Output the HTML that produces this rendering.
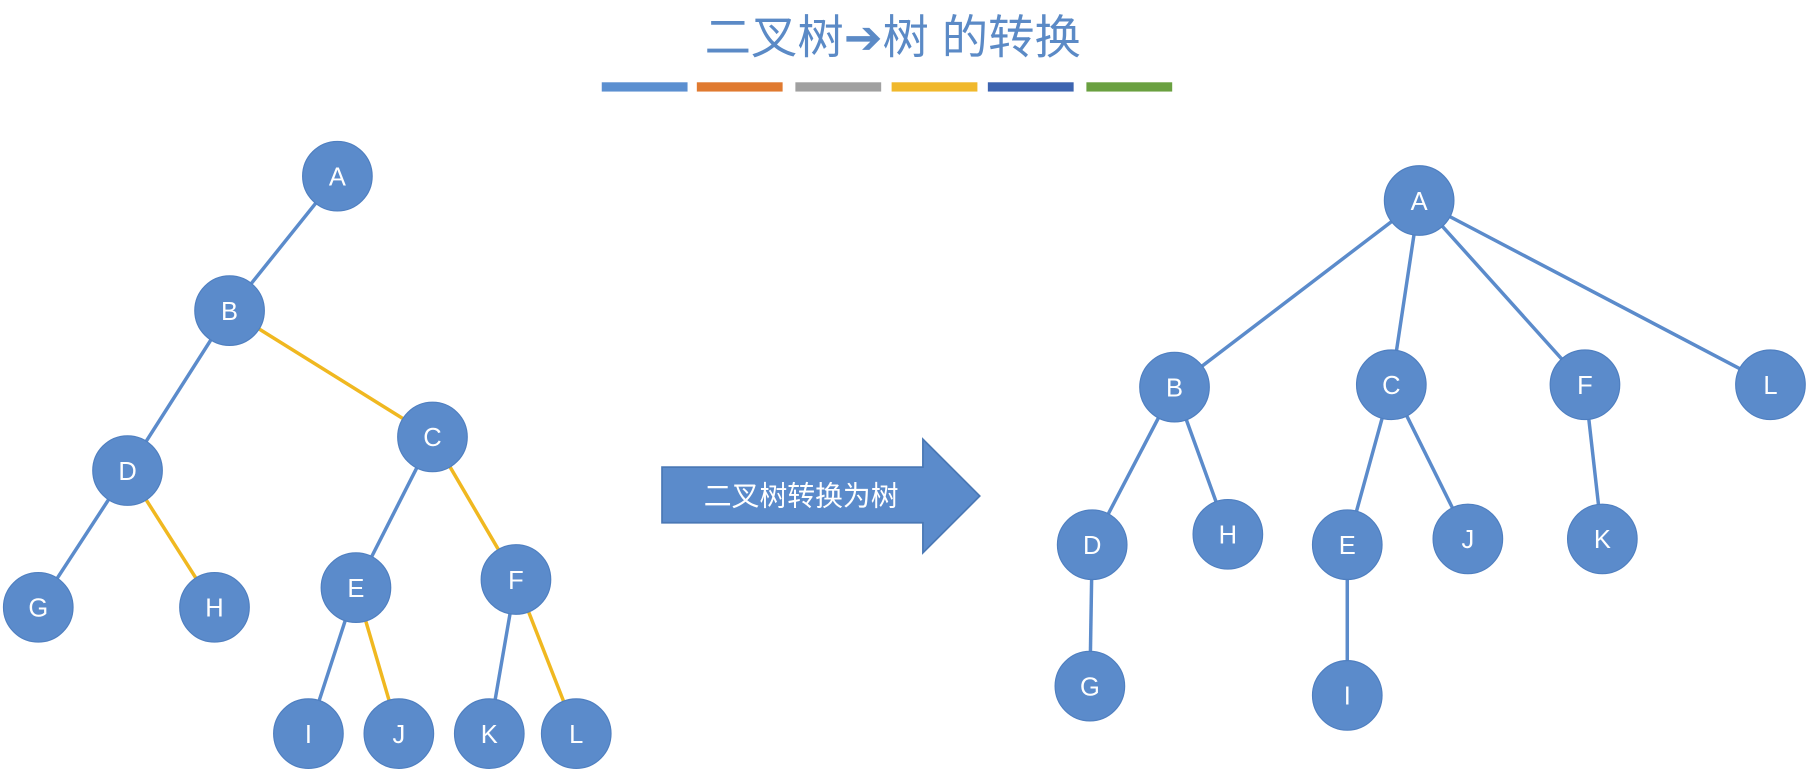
<!DOCTYPE html>
<html><head><meta charset="utf-8"><style>
html,body{margin:0;padding:0;background:#fff;}
svg{display:block;}
text{font-family:"Liberation Sans","Noto Sans CJK SC",sans-serif;}
</style></head><body>
<svg width="1818" height="780" viewBox="0 0 1568 673" preserveAspectRatio="none" xmlns="http://www.w3.org/2000/svg">
<text x="770" y="46" text-anchor="middle" font-size="40" fill="#5b8ac6">二叉树<tspan font-family="DejaVu Sans" font-weight="bold">➔</tspan>树 的转换</text>
<g>
<rect x="519" y="71" width="74" height="8" fill="#5b8fd0"/>
<rect x="601" y="71" width="74" height="8" fill="#e07a30"/>
<rect x="686" y="71" width="74" height="8" fill="#a0a0a0"/>
<rect x="769" y="71" width="74" height="8" fill="#f0b82c"/>
<rect x="852" y="71" width="74" height="8" fill="#3d64b0"/>
<rect x="937" y="71" width="74" height="8" fill="#6aa040"/>
</g>
<g stroke-width="3" fill="none">
<g stroke="#5b8bcb">
<line x1="291" y1="152" x2="198" y2="268"/>
<line x1="198" y1="268" x2="110" y2="406"/>
<line x1="110" y1="406" x2="33" y2="524"/>
<line x1="373" y1="377" x2="307" y2="507"/>
<line x1="307" y1="507" x2="266" y2="633"/>
<line x1="445" y1="500" x2="422" y2="633"/>
<line x1="1224" y1="173" x2="1013" y2="334"/>
<line x1="1224" y1="173" x2="1200" y2="332"/>
<line x1="1224" y1="173" x2="1367" y2="332"/>
<line x1="1224" y1="173" x2="1527" y2="332"/>
<line x1="1013" y1="334" x2="942" y2="470"/>
<line x1="1013" y1="334" x2="1059" y2="461"/>
<line x1="1200" y1="332" x2="1162" y2="470"/>
<line x1="1200" y1="332" x2="1266" y2="465"/>
<line x1="1367" y1="332" x2="1382" y2="465"/>
<line x1="942" y1="470" x2="940" y2="592"/>
<line x1="1162" y1="470" x2="1162" y2="600"/>
</g>
<g stroke="#f0b820">
<line x1="198" y1="268" x2="373" y2="377"/>
<line x1="110" y1="406" x2="185" y2="524"/>
<line x1="373" y1="377" x2="445" y2="500"/>
<line x1="307" y1="507" x2="344" y2="633"/>
<line x1="445" y1="500" x2="497" y2="633"/>
</g>
</g>
<g fill="#5b8bcb" stroke="#4f7fc0" stroke-width="1">
<circle cx="291" cy="152" r="30"/><circle cx="198" cy="268" r="30"/><circle cx="110" cy="406" r="30"/><circle cx="373" cy="377" r="30"/>
<circle cx="33" cy="524" r="30"/><circle cx="185" cy="524" r="30"/><circle cx="307" cy="507" r="30"/><circle cx="445" cy="500" r="30"/>
<circle cx="266" cy="633" r="30"/><circle cx="344" cy="633" r="30"/><circle cx="422" cy="633" r="30"/><circle cx="497" cy="633" r="30"/>
<circle cx="1224" cy="173" r="30"/><circle cx="1013" cy="334" r="30"/><circle cx="1200" cy="332" r="30"/><circle cx="1367" cy="332" r="30"/><circle cx="1527" cy="332" r="30"/>
<circle cx="942" cy="470" r="30"/><circle cx="1059" cy="461" r="30"/><circle cx="1162" cy="470" r="30"/><circle cx="1266" cy="465" r="30"/><circle cx="1382" cy="465" r="30"/>
<circle cx="940" cy="592" r="30"/><circle cx="1162" cy="600" r="30"/>
</g>
<g fill="#fff" font-size="22" text-anchor="middle">
<text x="291" y="160">A</text><text x="198" y="276">B</text><text x="110" y="414">D</text><text x="373" y="385">C</text>
<text x="33" y="532">G</text><text x="185" y="532">H</text><text x="307" y="515">E</text><text x="445" y="508">F</text>
<text x="266" y="641">I</text><text x="344" y="641">J</text><text x="422" y="641">K</text><text x="497" y="641">L</text>
<text x="1224" y="181">A</text><text x="1013" y="342">B</text><text x="1200" y="340">C</text><text x="1367" y="340">F</text><text x="1527" y="340">L</text>
<text x="942" y="478">D</text><text x="1059" y="469">H</text><text x="1162" y="478">E</text><text x="1266" y="473">J</text><text x="1382" y="473">K</text>
<text x="940" y="600">G</text><text x="1162" y="608">I</text>
</g>
<polygon points="571,403 796,403 796,379 845,428 796,477 796,451 571,451" fill="#5b8bcb" stroke="#4a78b5" stroke-width="1.5"/>
<text x="691" y="436" text-anchor="middle" font-size="24" fill="#fff">二叉树转换为树</text>
</svg>
</body></html>
